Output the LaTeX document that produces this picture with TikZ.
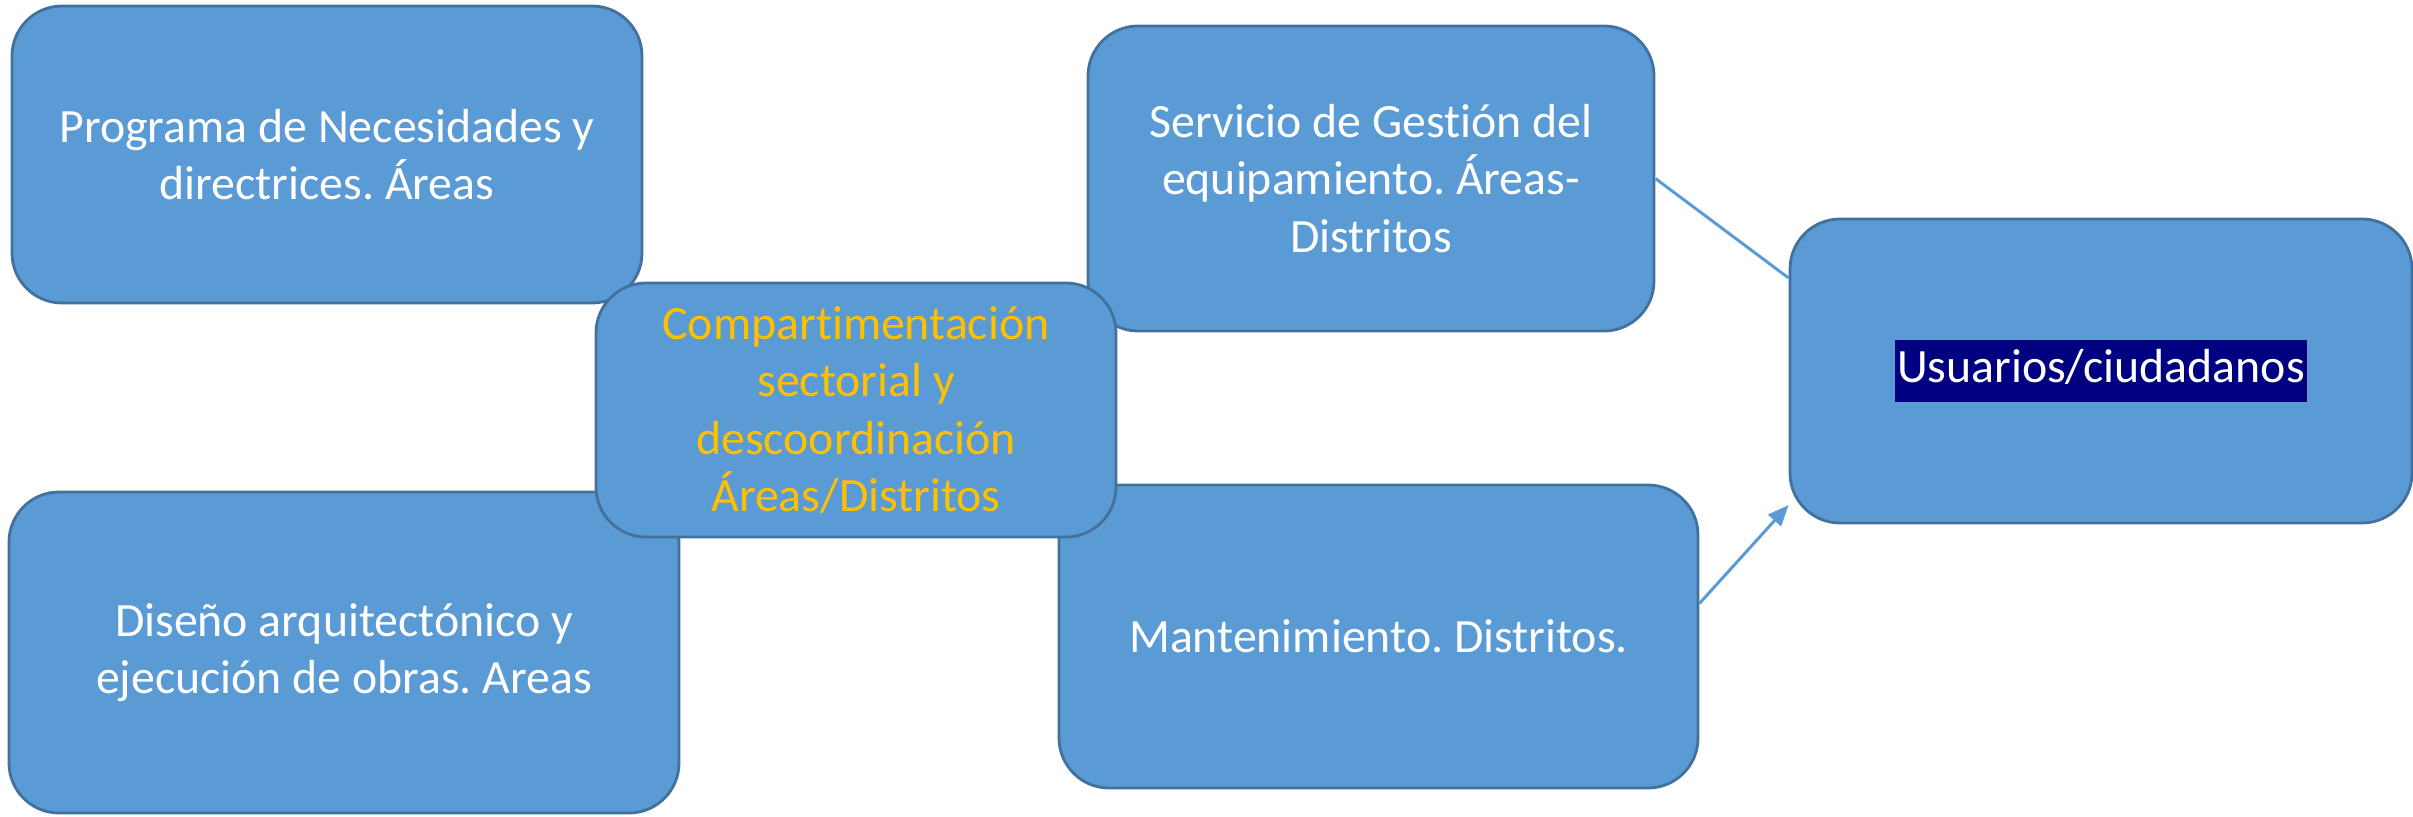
\documentclass[tikz,border=0pt]{standalone}
\usepackage{fontspec}
\setmainfont{Carlito}[RawFeature={-liga,-dlig,-clig,-calt}]
\usetikzlibrary{arrows.meta}
\frenchspacing

\definecolor{boxfill}{HTML}{5B9BD5}
\definecolor{boxline}{HTML}{41719C}
\definecolor{txtgold}{HTML}{FFC000}
\definecolor{hlnavy}{HTML}{000080}

\tikzset{
	bloque/.style={draw=boxline, line width=0.8pt, fill=boxfill, rounded corners=0.5cm,
		inner sep=0pt, align=center, text=white, font=\fontsize{13.6}{16.3}\selectfont},
	enlace/.style={draw=boxfill, line width=0.85pt}
}

\begin{document}
\begin{tikzpicture}
		\useasboundingbox (0,0) rectangle (24.13,8.16);

		\node[bloque, minimum width=6.30cm, minimum height=2.97cm] (prog) at (3.27,6.615)
			{Programa de Necesidades y\\directrices. Áreas};
		\node[bloque, minimum width=6.70cm, minimum height=3.21cm] (dis)  at (3.44,1.635)
			{Diseño arquitectónico y\\ejecución de obras. Areas};
		\node[bloque, minimum width=5.66cm, minimum height=3.05cm] (serv) at (13.71,6.375)
			{Servicio de Gestión del\\equipamiento. Áreas-\\Distritos};
		\node[bloque, minimum width=6.39cm, minimum height=3.03cm] (mant) at (13.785,1.795)
			{Mantenimiento. Distritos.};
		\node[bloque, minimum width=5.20cm, minimum height=2.54cm, text=txtgold] (comp) at (8.56,4.06)
			{Compartimentación\\sectorial y\\descoordinación\\Áreas/Distritos};
		\node[bloque, minimum width=6.22cm, minimum height=3.04cm] (usu)  at (21.01,4.45)
			{\setlength{\fboxsep}{0.7pt}\colorbox{hlnavy}{\strut Usuarios/ciudadanos}};

		\coordinate (usuA) at ([yshift=0.93cm]usu.west);
		\coordinate (usuB) at ([yshift=-1.34cm]usu.west);

		\draw[enlace] (serv.east) -- (usuA);
		\draw[enlace, -{Triangle[length=0.21cm,width=0.17cm]}] ([yshift=0.33cm]mant.east) -- (usuB);
	\end{tikzpicture}
\end{document}
